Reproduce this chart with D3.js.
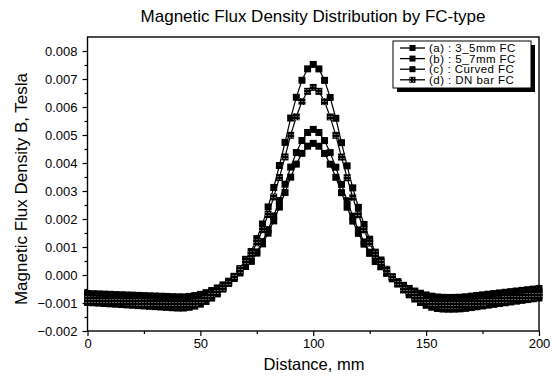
<!DOCTYPE html>
<meta charset="utf-8">
<script src="https://d3js.org/d3.v7.min.js"></script>
<style>
  body { margin: 0; background: #fff; }
  text { font-family: "Liberation Sans", Arial, sans-serif; fill: #000; }
</style>
<div id="chart"></div>
<script>

  // distance along the sensor, mm
  const distance = [0, 2.5, 5, 7.5, 10, 12.5, 15, 17.5, 20, 22.5, 25, 27.5, 30, 32.5, 35, 37.5, 40, 42.5, 45, 47.5,
    50, 52.5, 55, 57.5, 60, 62.5, 65, 67.5, 70, 72.5, 75, 77.5, 80, 82.5, 85, 87.5, 90, 92.5, 95, 97.5,
    100, 102.5, 105, 107.5, 110, 112.5, 115, 117.5, 120, 122.5, 125, 127.5, 130, 132.5, 135, 137.5, 140, 142.5, 145, 147.5,
    150, 152.5, 155, 157.5, 160, 162.5, 165, 167.5, 170, 172.5, 175, 177.5, 180, 182.5, 185, 187.5, 190, 192.5, 195, 197.5, 200];

  // flux density, in micro-tesla (converted to T when plotted)
  const fc35mm = [-980, -993, -1005, -1018, -1030, -1043, -1055, -1068, -1080, -1093, -1105, -1118, -1130, -1143, -1155, -1168, -1180, -1180, -1154, -1111,
    -1041, -945, -823, -675, -502, -292, -48, 230, 560, 838, 1300, 1822, 2431, 3127, 3910, 4736, 5606, 6346, 6955, 7363,
    7520, 7361, 6951, 6340, 5598, 4726, 3898, 3113, 2415, 1804, 1280, 816, 536, 204, -76, -322, -534, -709, -859, -983,
    -1081, -1151, -1196, -1216, -1221, -1219, -1210, -1192, -1163, -1134, -1106, -1077, -1049, -1020, -991, -963, -934, -906, -877, -849, -820];

  const fc57mm = [-760, -770, -780, -790, -800, -810, -820, -830, -840, -850, -860, -870, -880, -890, -900, -910, -920, -920, -902, -871,
    -823, -754, -669, -565, -443, -295, -124, 72, 304, 500, 824, 1191, 1620, 2109, 2660, 3242, 3854, 4374, 4802, 5090,
    5200, 5089, 4800, 4371, 3850, 3237, 2654, 2102, 1612, 1182, 814, 489, 292, 59, -138, -310, -459, -582, -687, -773,
    -843, -891, -922, -938, -942, -940, -934, -916, -891, -867, -843, -819, -794, -770, -746, -721, -697, -673, -649, -624, -600];

  const fcCurved = [-660, -668, -675, -683, -690, -698, -705, -713, -720, -728, -735, -743, -750, -758, -765, -773, -780, -780, -764, -736,
    -692, -632, -555, -462, -352, -221, -68, 108, 316, 491, 782, 1111, 1494, 1933, 2426, 2946, 3494, 3960, 4344, 4601,
    4700, 4600, 4342, 3957, 3490, 2941, 2420, 1926, 1486, 1102, 772, 480, 304, 95, -82, -236, -368, -479, -573, -651,
    -712, -756, -784, -798, -802, -800, -794, -777, -754, -731, -709, -686, -663, -640, -617, -594, -571, -549, -526, -503, -480];

  const fcDnBar = [-880, -891, -903, -914, -925, -936, -948, -959, -970, -981, -993, -1004, -1015, -1026, -1038, -1049, -1060, -1060, -1036, -997,
    -936, -850, -742, -610, -455, -268, -52, 197, 492, 740, 1152, 1617, 2160, 2781, 3480, 4217, 4993, 5652, 6196, 6560,
    6700, 6559, 6194, 5649, 4989, 4212, 3474, 2774, 2152, 1608, 1142, 729, 480, 184, -66, -283, -471, -627, -760, -869,
    -956, -1017, -1056, -1077, -1082, -1080, -1074, -1054, -1029, -1003, -977, -951, -926, -900, -874, -849, -823, -797, -771, -746, -720];

  const seriesNames = ["(a) : 3_5mm FC", "(b) : 5_7mm FC", "(c) : Curved FC", "(d) : DN bar FC"];
  const seriesValues = [fc35mm, fc57mm, fcCurved, fcDnBar];

  const yTicks = [-0.002, -0.001, 0, 0.001, 0.002, 0.003, 0.004, 0.005, 0.006, 0.007, 0.008];
  const xTicks = [0, 50, 100, 150, 200];

  const W = 556, H = 376;
  const margin = {top: 37, right: 17, bottom: 45, left: 87.5};
  const width = W - margin.left - margin.right,
        height = H - margin.top - margin.bottom;

  const svg = d3.select("#chart")
    .append("svg")
      .attr("width", W)
      .attr("height", H);

  // halftone fill used by the (d) markers
  const pat = svg.append("defs").append("pattern")
      .attr("id", "dots")
      .attr("patternUnits", "userSpaceOnUse")
      .attr("width", 3).attr("height", 3);
  pat.append("rect").attr("width", 3).attr("height", 3).attr("fill", "#000");
  pat.append("rect").attr("x", 1).attr("y", 1).attr("width", 1).attr("height", 1).attr("fill", "#bbb");

  const g = svg.append("g")
      .attr("transform", `translate(${margin.left},${margin.top})`);

  const x = d3.scaleLinear().domain([0, 200]).range([0, width]);
  const y = d3.scaleLinear().domain([-0.002, 0.0085]).range([height, 0]);

  // axes
  const fmt = d3.format(".3f");
  const yAxis = g.append("g")
    .call(d3.axisLeft(y).tickValues(yTicks).tickFormat(fmt).tickSize(5).tickPadding(5));
  g.append("g")
    .call(d3.axisLeft(y).tickValues(d3.range(-0.0015, 0.0085, 0.001)).tickFormat("").tickSize(3));
  const xAxis = g.append("g")
    .attr("transform", `translate(0,${height})`)
    .call(d3.axisBottom(x).tickValues(xTicks).tickFormat(d3.format("d")).tickSize(5).tickPadding(3));
  g.append("g")
    .attr("transform", `translate(0,${height})`)
    .call(d3.axisBottom(x).tickValues([25, 75, 125, 175]).tickFormat("").tickSize(3));
  g.selectAll(".domain").remove();
  g.selectAll(".tick line").attr("stroke", "#000").attr("stroke-width", 1.2);
  yAxis.selectAll("text").style("font-size", "13px");
  xAxis.selectAll("text").style("font-size", "13px");

  // frame
  g.append("rect")
    .attr("width", width).attr("height", height)
    .attr("fill", "none").attr("stroke", "#000").attr("stroke-width", 1.4);

  // series
  const line = d3.line()
    .x((d, i) => x(distance[i]))
    .y(d => y(d * 1e-6));

  const ms = 7;
  seriesValues.forEach((vals, k) => {
    g.append("path")
      .datum(vals)
      .attr("d", line)
      .attr("fill", "none")
      .attr("stroke", "#000")
      .attr("stroke-width", 1.2);
    g.append("g").selectAll("rect")
      .data(vals)
      .join("rect")
        .attr("x", (d, i) => x(distance[i]) - ms / 2)
        .attr("y", d => y(d * 1e-6) - ms / 2)
        .attr("width", ms).attr("height", ms)
        .attr("fill", k === 3 ? "url(#dots)" : "#000");
  });

  // titles
  svg.append("text")
    .attr("x", 313).attr("y", 21.5)
    .attr("text-anchor", "middle")
    .style("font-size", "17px")
    .text("Magnetic Flux Density Distribution by FC-type");
  svg.append("text")
    .attr("x", 314).attr("y", 370)
    .attr("text-anchor", "middle")
    .style("font-size", "16.5px")
    .text("Distance, mm");
  svg.append("text")
    .attr("transform", `translate(27,189) rotate(-90)`)
    .attr("text-anchor", "middle")
    .style("font-size", "17px")
    .text("Magnetic Flux Density B, Tesla");

  // legend
  const lg = svg.append("g").attr("transform", "translate(393,41)");
  lg.append("rect").attr("x", 4).attr("y", 4).attr("width", 138).attr("height", 47).attr("fill", "#000");
  lg.append("rect").attr("width", 138).attr("height", 47).attr("fill", "#fff").attr("stroke", "#000").attr("stroke-width", 1);
  const rows = lg.selectAll(".row")
    .data(seriesNames)
    .join("g")
      .attr("transform", (d, i) => `translate(7,${7 + i * 10.6})`);
  rows.append("line").attr("x1", 0).attr("x2", 25).attr("stroke", "#000").attr("stroke-width", 1.3);
  rows.append("rect").attr("x", 9.5).attr("y", -3).attr("width", 6).attr("height", 6)
    .attr("fill", (d, i) => i === 3 ? "url(#dots)" : "#000");
  rows.append("text").attr("x", 29).attr("y", 4)
    .style("font-size", "11.5px")
    .style("letter-spacing", "0.45px")
    .text(d => d);
</script>
